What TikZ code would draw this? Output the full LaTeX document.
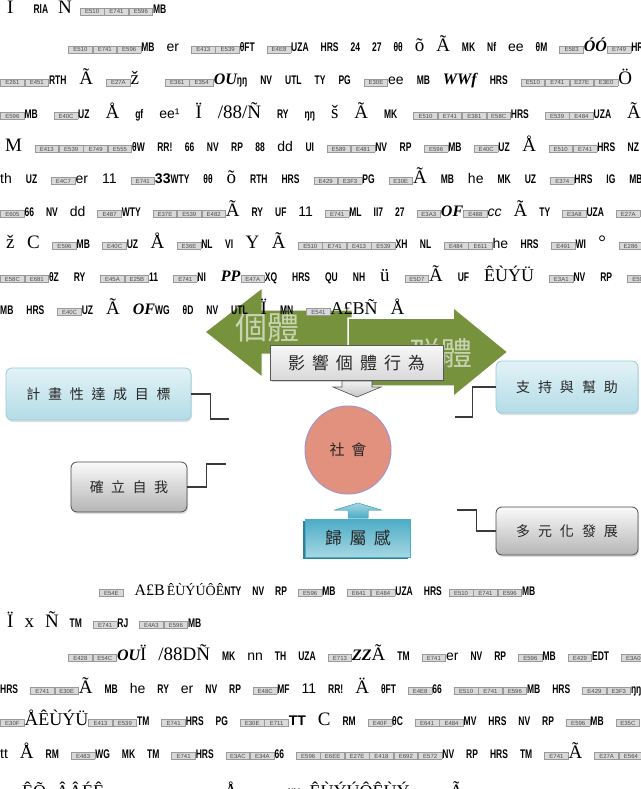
\documentclass[tikz,border=0pt]{standalone}
\usepackage{fontspec}
\setmainfont{Liberation Sans}
\newfontfamily\cjk{Noto Sans CJK TC}
\newfontfamily\nar[FakeStretch=0.68]{Liberation Sans}
\newfontfamily\ser{Liberation Serif}
\usetikzlibrary{shadows,shapes.geometric}
\definecolor{arrgreen}{HTML}{76923C}
\definecolor{bluetop}{HTML}{E3F2F6}
\definecolor{bluebot}{HTML}{B3DCE7}
\definecolor{blueline}{HTML}{93CDDD}
\definecolor{tealtop}{HTML}{4BACC6}
\definecolor{tealbot}{HTML}{A6D7E3}
\definecolor{tealdark}{HTML}{2F8199}
\definecolor{salmon}{HTML}{E3917F}
\definecolor{lavline}{HTML}{A393C4}
\definecolor{conncol}{HTML}{3A3A3A}
\definecolor{boxtext}{HTML}{262626}
\newlength\gaplen
\setlength\gaplen{13pt}
\newcommand\hexb[1]{{\setlength\fboxsep{1pt}\setlength\fboxrule{0.7pt}\fcolorbox{gray!80}{gray!30}{\makebox[21pt]{\fontsize{6}{6}\selectfont\textcolor{gray!60!black}{#1}}}}}
\newcommand\cnd[1]{{\nar\bfseries\fontsize{12.5}{12.5}\selectfont #1}}
\newcommand\srf[1]{{\ser\fontsize{19}{19}\selectfont #1}}
\newcommand\srfb[1]{{\ser\fontsize{18}{18}\selectfont #1}}
\newcommand\srfs[2]{{\ser\fontsize{#1}{#1}\selectfont #2}}
\newcommand\bsi[1]{{\ser\bfseries\itshape\fontsize{16}{16}\selectfont #1}}
\newcommand\gap{\hspace{\gaplen}}
\newcommand\gp[1]{\setlength\gaplen{#1pt}}
\tikzset{
  txt/.style={anchor=base west, inner sep=0pt, font=\fontsize{14}{14}\selectfont},
  bluebox/.style={rounded corners=6pt, draw=blueline, line width=0.8pt, top color=bluetop, bottom color=bluebot,
    drop shadow={shadow xshift=1pt, shadow yshift=-2pt, opacity=0.25}, text=boxtext},
  graybox/.style={rounded corners=6pt, draw=gray!60!black, line width=0.8pt, top color=gray!4, bottom color=gray!58,
    drop shadow={shadow xshift=1pt, shadow yshift=-2pt, opacity=0.25}, text=boxtext},
  conn/.style={draw=conncol, line width=1.1pt},
  cjkf/.style={font=\cjk\fontsize{#1}{#1}\selectfont}
}
\begin{document}
\begin{tikzpicture}[x=1pt,y=-1pt]
\useasboundingbox (0,0) rectangle (640,789);
\fill[white] (0,0) rectangle (640,789);

% green double arrow
\fill[arrgreen, draw=white, line width=1pt] (205,332) -- (262,288) -- (262,310) -- (352,310) -- (352,354) -- (262,354) -- (262,377) -- cycle;
\fill[arrgreen, draw=white, line width=1.5pt] (348,318) -- (453,318) -- (453,307) -- (508,352) -- (453,397) -- (453,386) -- (348,386) -- cycle;
\node[cjkf=32, text=white, opacity=0.6, inner sep=0pt] (indiv) at (267,327) {個體};
\node[cjkf=32, text=white, opacity=0.6, inner sep=0pt] (group) at (440,353) {群體};

% influence box and down arrow
\node[minimum width=173pt, minimum height=35pt, inner sep=0pt, draw=gray!70!black, line width=0.8pt, top color=gray!6, bottom color=gray!30,
  drop shadow={shadow xshift=1.5pt, shadow yshift=-2pt, opacity=0.3}, text=boxtext, cjkf=17] (influence) at (356.5,362.5)
  {影\hspace{7pt}響\hspace{7pt}個\hspace{7pt}體\hspace{7pt}行\hspace{7pt}為};
\filldraw[draw=gray!70!black, line width=0.6pt, top color=gray!10, bottom color=gray!45] (342,381) -- (372,381) -- (372,387) -- (381,387) -- (357,397) -- (333,387) -- (342,387) -- cycle;

% text lines (top)
\node[txt] (l1) at (7,14) {\srf{Ï}\hspace{20pt}\cnd{RlA}\hspace{10pt}\srf{Ñ}\hspace{8pt}\hexb{E510}\hexb{E741}\hexb{E596}\cnd{MB}};
\node[txt] (l2) at (68,52) {\gp{12}\hexb{E510}\hexb{E741}\hexb{E596}\cnd{MB}\gap er\gap\hexb{E413}\hexb{E539}\cnd{θFT}\gap\hexb{E4E8}\cnd{UZA}\gap\cnd{HRS}\gap\cnd{24}\gap\cnd{27}\gap\cnd{θθ}\gap\srf{õ}\gap\srf{Ã}\gap\cnd{MK}\gap\cnd{Nf}\gap ee\gap\cnd{θM}\gap\hexb{E583}\bsi{ÓÓ}\hexb{E749}\cnd{HRS}};
\node[txt] (l3) at (0,85) {\gp{13}\hexb{E261}\hexb{E451}\cnd{RTH}\gap\srf{Ã}\gap\hexb{E27A}\srf{ž}\gap\gap\hexb{E361}\hexb{E354}\bsi{OU}\cnd{ŋŋ}\gap\cnd{NV}\gap\cnd{UTL}\gap\cnd{TY}\gap\cnd{PG}\gap\hexb{E30E}ee\gap\cnd{MB}\gap\bsi{WWf}\gap\cnd{HRS}\gap\hexb{E510}\hexb{E741}\hexb{E27E}\hexb{E3E0}\srf{Ö}\gap\cnd{HRS}};
\node[txt] (l4) at (0,118) {\gp{16}\hexb{E596}\cnd{MB}\gap\hexb{E40C}\cnd{UZ}\gap\srf{Å}\gap\cnd{gf}\gap ee¹\gap\srf{Ï}\gap\srf{/88/Ñ}\gap\cnd{RY}\gap\cnd{ŋŋ}\gap\srf{š}\gap\srf{Ã}\gap\cnd{MK}\gap\hexb{E510}\hexb{E741}\hexb{E381}\hexb{E58C}\cnd{HRS}\gap\hexb{E539}\hexb{E484}\cnd{UZA}\gap\srf{Ã}};
\node[txt] (l5) at (5,151) {\gp{12.5}\srf{M}\gap\hexb{E413}\hexb{E539}\hexb{E749}\hexb{E555}\cnd{θW}\gap\cnd{RR!}\gap\cnd{66}\gap\cnd{NV}\gap\cnd{RP}\gap\cnd{88}\gap dd\gap\cnd{UI}\gap\hexb{E589}\hexb{E481}\cnd{NV}\gap\cnd{RP}\gap\hexb{E596}\cnd{MB}\gap\hexb{E40C}\cnd{UZ}\gap\srf{Å}\gap\hexb{E510}\hexb{E741}\cnd{HRS}\gap\cnd{NZ}};
\node[txt] (l6) at (0,183) {\gp{14}th\gap\cnd{UZ}\gap\hexb{E4C7}er\gap 11\gap\hexb{E741}\textbf{33}\cnd{WTY}\gap\cnd{θθ}\gap\srf{õ}\gap\cnd{RTH}\gap\cnd{HRS}\gap\hexb{E429}\hexb{E3F3}\cnd{PG}\gap\hexb{E30E}\srf{Ã}\gap\cnd{MB}\gap he\gap\cnd{MK}\gap\cnd{UZ}\gap\hexb{E374}\cnd{HRS}\gap\cnd{IG}\gap\cnd{MB}\gap\hexb{E35C}};
\node[txt] (l7) at (0,216) {\gp{12}\hexb{E605}\cnd{66}\gap\cnd{NV}\gap dd\gap\hexb{E487}\cnd{WTY}\gap\hexb{E37E}\hexb{E539}\hexb{E482}\srf{Ã}\gap\cnd{RY}\gap\cnd{UF}\gap 11\gap\hexb{E741}\cnd{ML}\gap\cnd{II7}\gap\cnd{27}\gap\hexb{E3A3}\bsi{OF}\hexb{E488}\textit{cc}\gap\srf{Ã}\gap\cnd{TY}\gap\hexb{E3A8}\cnd{UZA}\gap\hexb{E27A}};
\node[txt] (l8) at (6,248) {\gp{12.5}\srf{ž}\gap\srf{C}\gap\hexb{E596}\cnd{MB}\gap\hexb{E40C}\cnd{UZ}\gap\srf{Å}\gap\hexb{E36E}\cnd{NL}\gap\cnd{VI}\gap\srf{Y}\gap\srf{Ã}\gap\hexb{E510}\hexb{E741}\hexb{E413}\hexb{E539}\cnd{XH}\gap\cnd{NL}\gap\hexb{E484}\hexb{E611}he\gap\cnd{HRS}\gap\hexb{E491}\cnd{WI}\gap\srf{°}\gap\hexb{E286}};
\node[txt] (l9) at (0,281) {\gp{15}\hexb{E58C}\hexb{E681}\cnd{θZ}\gap\cnd{RY}\gap\hexb{E45A}\hexb{E25B}\cnd{11}\gap\hexb{E741}\cnd{NI}\gap\bsi{PP}\hexb{E47A}\cnd{XQ}\gap\cnd{HRS}\gap\cnd{QU}\gap\cnd{NH}\gap\srf{ü}\gap\hexb{E5D7}\srf{Ã}\gap\cnd{UF}\gap\srfb{ÊÙÝÜ}\gap\hexb{E3A1}\cnd{NV}\gap\cnd{RP}\gap\hexb{E596}};
\node[txt] (l10) at (0,314) {\gp{13}\cnd{MB}\gap\cnd{HRS}\gap\hexb{E40C}\cnd{UZ}\gap\srf{Ã}\gap\bsi{OF}\cnd{WG}\gap\cnd{θD}\gap\cnd{NV}\gap\cnd{UTL}\gap\srf{Ï}\gap\cnd{MN}\gap\hexb{E541}\srfb{A£BÑ}\gap\srf{Å}};

% side boxes
\node[bluebox, minimum width=185pt, minimum height=52pt, inner sep=0pt, cjkf=14] (plan) at (98.5,394)
  {計\hspace{7.7pt}畫\hspace{7.7pt}性\hspace{7.7pt}達\hspace{7.7pt}成\hspace{7.7pt}目\hspace{7.7pt}標};
\node[graybox, minimum width=116pt, minimum height=50pt, inner sep=0pt, cjkf=14] (self) at (129,487)
  {確\hspace{7.5pt}立\hspace{7.5pt}自\hspace{7.5pt}我};
\node[bluebox, minimum width=142pt, minimum height=52pt, inner sep=0pt, cjkf=14] (support) at (567,387)
  {支\hspace{8pt}持\hspace{8pt}與\hspace{8pt}幫\hspace{8pt}助};
\node[graybox, minimum width=142pt, minimum height=48pt, inner sep=0pt, cjkf=14] (diverse) at (567,531)
  {多\hspace{8pt}元\hspace{8pt}化\hspace{8pt}發\hspace{8pt}展};

% elbow connectors
\coordinate (planend) at (229,419);
\coordinate (selfend) at (226,464);
\coordinate (supend) at (455,417);
\coordinate (divend) at (457,510);
\draw[conn] (plan.east) -- ++(19,0) |- (planend);
\draw[conn] (self.east) -- ++(19,0) |- (selfend);
\draw[conn] (support.west) -- ++(-23,0) |- (supend);
\draw[conn] (diverse.west) -- ++(-19,0) |- (divend);

% society circle
\node[ellipse, minimum width=86pt, minimum height=88pt, inner sep=0pt, fill=salmon, draw=lavline, line width=1pt, text=boxtext, cjkf=15] (society) at (348,450)
  {社\hspace{7pt}會};

% belonging box and up arrow
\filldraw[draw=tealtop, line width=0.5pt, top color=tealbot, bottom color=tealtop] (348,518) -- (348,510) -- (335,510) -- (358,503) -- (381,510) -- (368,510) -- (368,518) -- cycle;
\fill[tealdark] (303,521) rectangle (408,559);
\node[minimum width=105pt, minimum height=38pt, inner sep=0pt, draw=tealtop, line width=0.6pt, top color=tealtop, bottom color=tealbot, text=boxtext, cjkf=17] (belong) at (358,538)
  {歸\hspace{7.5pt}屬\hspace{7.5pt}感};

% text lines (bottom)
\node[txt] (l11) at (99,595) {\gp{11}\hexb{E54E}\gap\srfs{16}{A£B}\hspace{2pt}\srfs{14}{ÊÙÝÚÔÊ}\cnd{NTY}\gap\cnd{NV}\gap\cnd{RP}\gap\hexb{E596}\cnd{MB}\gap\hexb{E641}\hexb{E484}\cnd{UZA}\gap\cnd{HRS}\hspace{7pt}\hexb{E510}\hexb{E741}\hexb{E596}\cnd{MB}};
\node[txt] (l12) at (7,627) {\gp{11}\srf{Ï}\gap\srf{x}\gap\srf{Ñ}\gap\cnd{TM}\gap\hexb{E741}\cnd{RJ}\gap\hexb{E4A3}\hexb{E596}\cnd{MB}};
\node[txt] (l13) at (68,660) {\gp{12}\hexb{E428}\hexb{E54C}\bsi{OU}\srf{Ï}\gap\srf{/88DÑ}\gap\cnd{MK}\gap nn\gap\cnd{TH}\gap\cnd{UZA}\gap\hexb{E713}\bsi{ZZ}\srf{Ã}\gap\cnd{TM}\gap\hexb{E741}er\gap\cnd{NV}\gap\cnd{RP}\gap\hexb{E596}\cnd{MB}\gap\hexb{E429}\cnd{EDT}\gap\hexb{E3A0}};
\node[txt] (l14) at (0,693) {\gp{12}\cnd{HRS}\gap\hexb{E741}\hexb{E30E}\srf{Ã}\gap\cnd{MB}\gap he\gap\cnd{RY}\gap er\gap\cnd{NV}\gap\cnd{RP}\gap\hexb{E48C}\cnd{MF}\gap 11\gap\cnd{RR!}\gap\srf{Ä}\gap\cnd{θFT}\gap\hexb{E4E8}\cnd{66}\gap\hexb{E510}\hexb{E741}\hexb{E596}\cnd{MB}\gap\cnd{HRS}\gap\hexb{E429}\hexb{E3F3}\cnd{ŋŋ}};
\node[txt] (l15) at (0,725) {\gp{12}\hexb{E30F}\srf{Å}\srfb{ÊÙÝÜ}\hexb{E413}\hexb{E539}\cnd{TM}\gap\hexb{E741}\cnd{HRS}\gap\cnd{PG}\gap\hexb{E30E}\hexb{E711}\textbf{TT}\gap\srf{C}\gap\cnd{RM}\gap\hexb{E40F}\cnd{θC}\gap\hexb{E641}\hexb{E484}\cnd{MV}\gap\cnd{HRS}\gap\cnd{NV}\gap\cnd{RP}\gap\hexb{E596}\cnd{MB}\gap\hexb{E35C}};
\node[txt] (l16) at (0,758) {\gp{12}tt\gap\srf{Å}\gap\cnd{RM}\gap\hexb{E483}\cnd{WG}\gap\cnd{MK}\gap\cnd{TM}\gap\hexb{E741}\cnd{HRS}\gap\hexb{E3AC}\hexb{E34A}\cnd{66}\gap\hexb{E596}\hexb{E6EE}\hexb{E27E}\hexb{E418}\hexb{E692}\hexb{E572}\cnd{NV}\gap\cnd{RP}\gap\cnd{HRS}\gap\cnd{TM}\gap\hexb{E741}\srf{Ã}\gap\hexb{E27A}\hexb{E564}};
\node[txt] (l17) at (0,797) {\hspace{22pt}\srfb{ÊÕ}\hspace{10pt}\srfb{ÂÂÉÊ}\hspace{120pt}\srf{Å}\hspace{50pt}\cnd{NV}\hspace{10pt}\srfb{ÊÙÝÚÔÊÙÝ}\hspace{40pt}\srf{Ã}};
\end{tikzpicture}
\end{document}
